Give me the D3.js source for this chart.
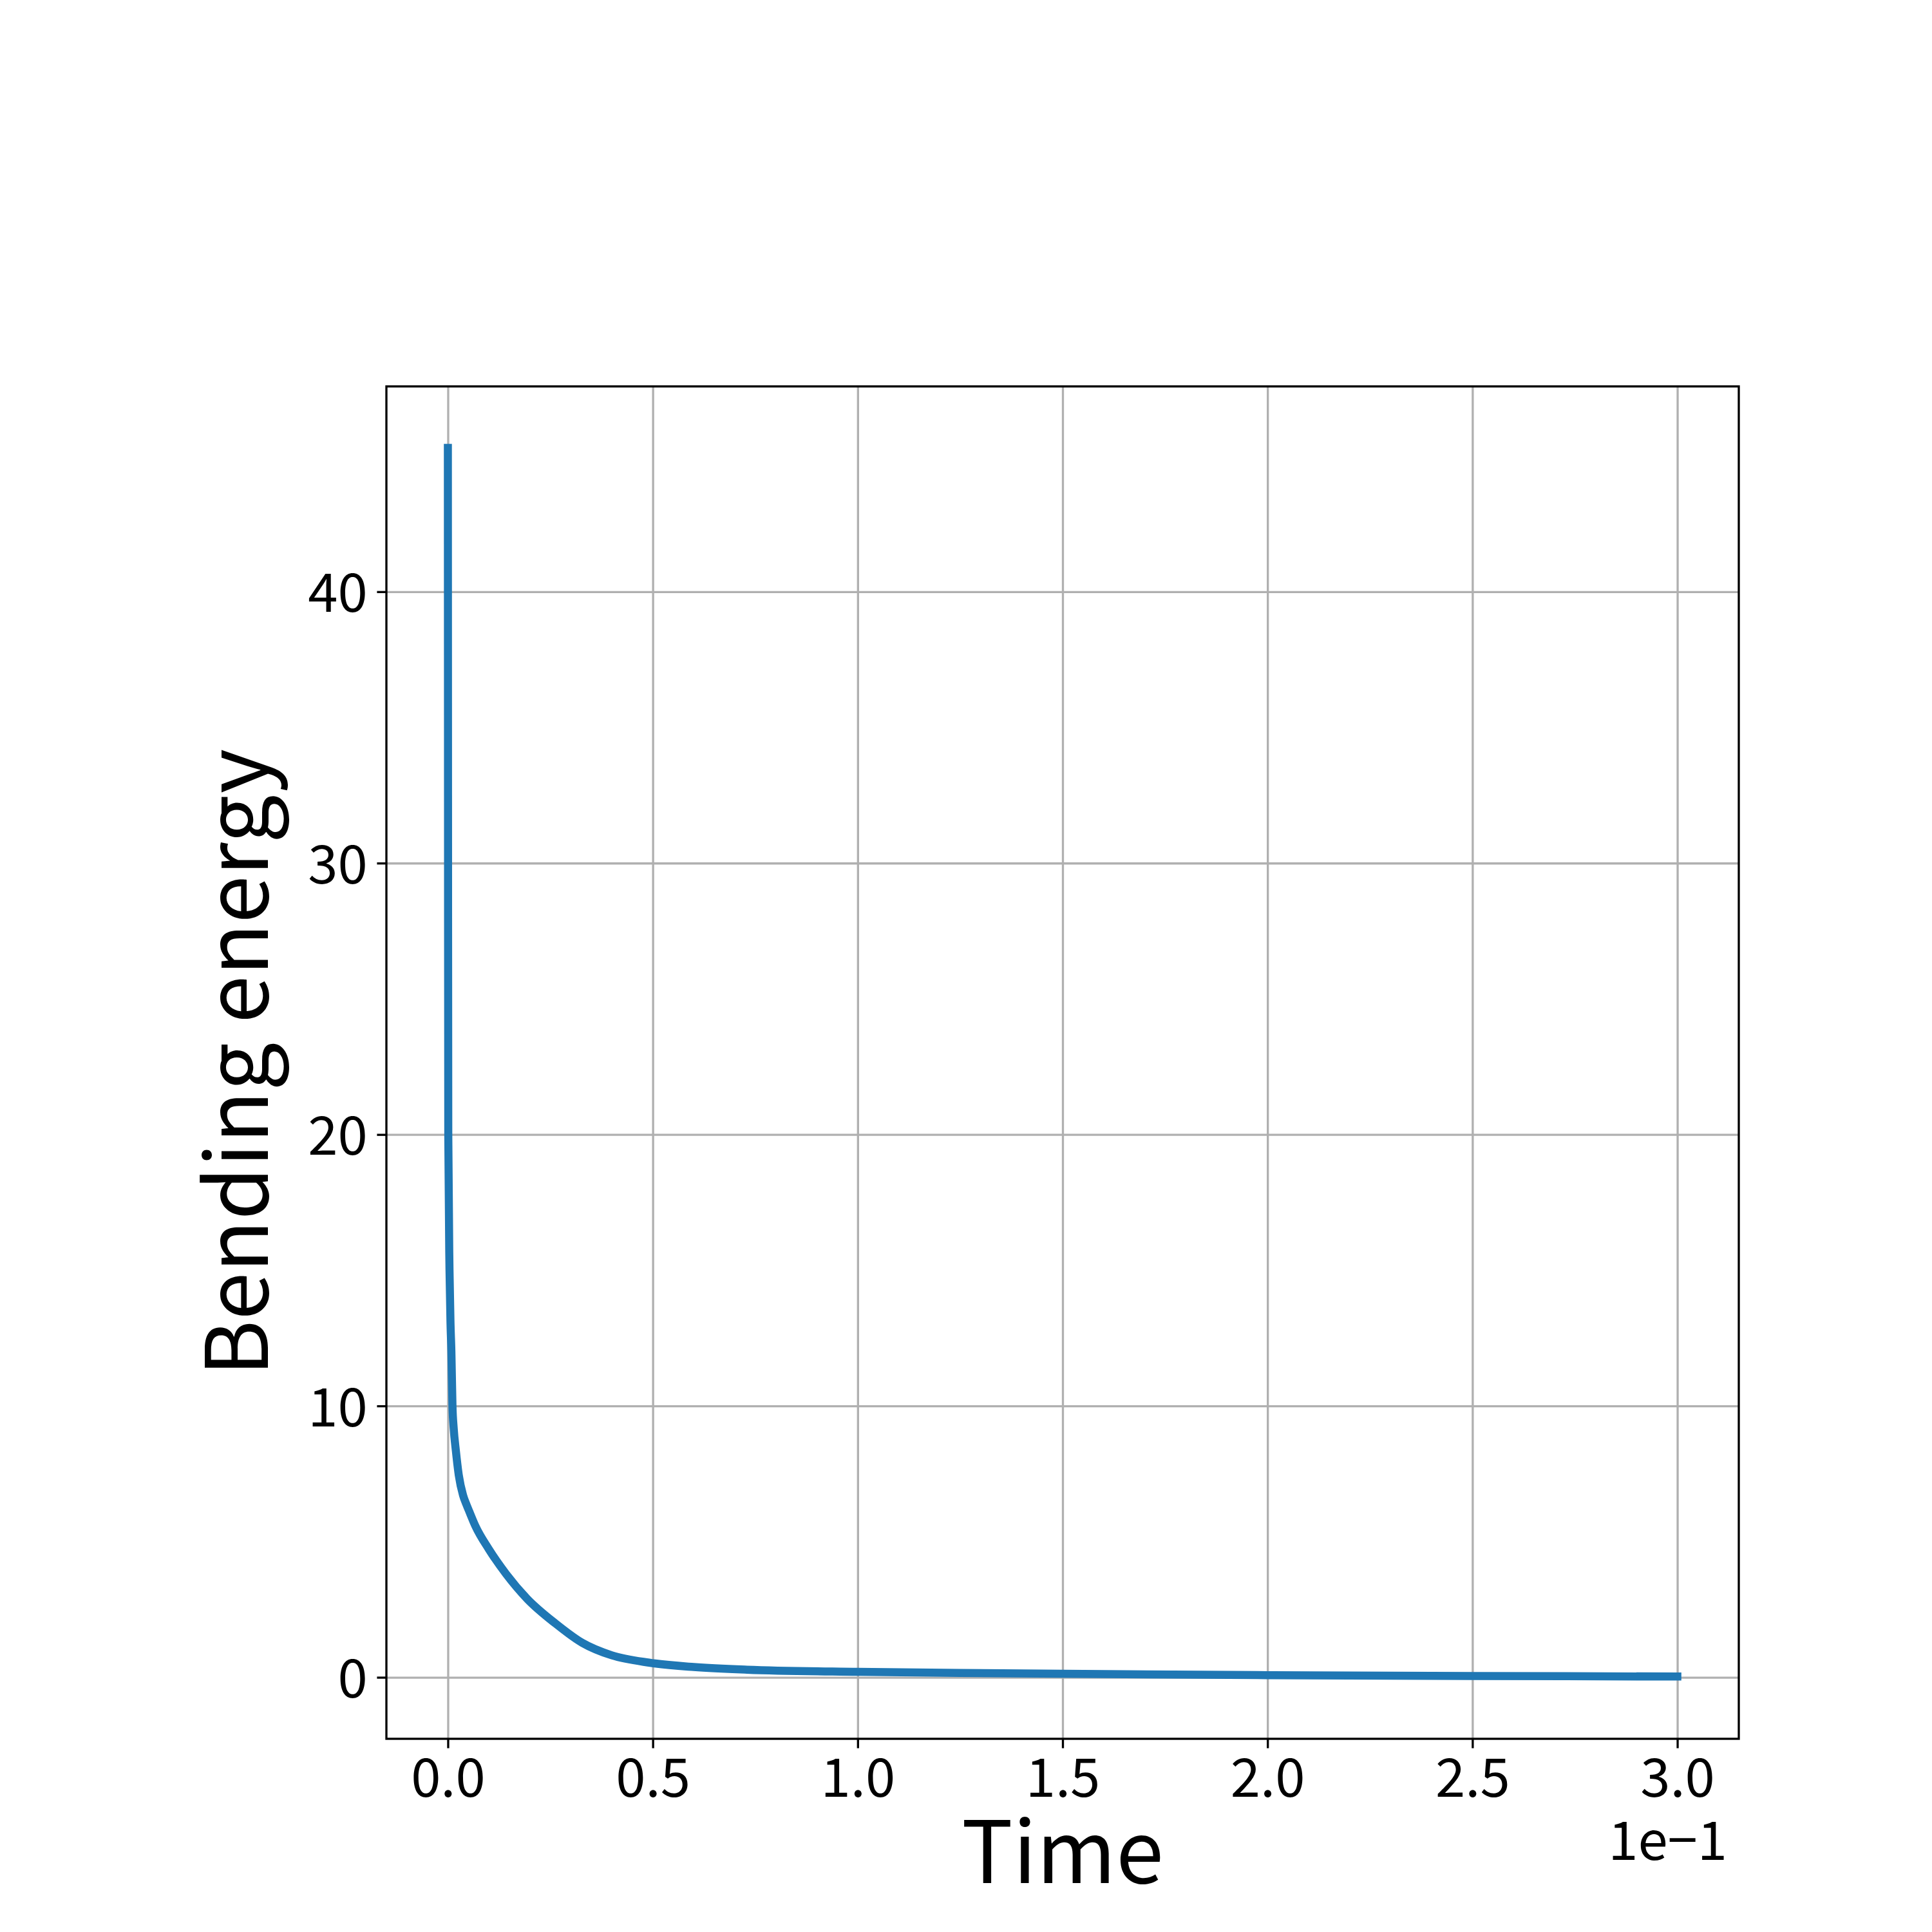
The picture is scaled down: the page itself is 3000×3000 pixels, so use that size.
<!DOCTYPE html>
<html>
<head>
<meta charset="utf-8">
<script src="https://cdn.jsdelivr.net/npm/d3@7/dist/d3.min.js"></script>
<style>
body { margin: 0; background: #fff; }
text { font-family: "Noto Sans CJK JP", "Noto Sans", sans-serif; font-weight: 400; fill: #000; }
</style>
</head>
<body>
<script>
// time (seconds) and bending energy
var times  = [0, 0.00003, 0.00005, 0.0001, 0.0004, 0.00065, 0.00086, 0.00112, 0.00141, 0.00195, 0.00267,
              0.0037, 0.0045, 0.0052, 0.0067, 0.0100, 0.0142, 0.0193, 0.0262, 0.0328, 0.0400, 0.0491,
              0.0600, 0.0730, 0.1000, 0.1250, 0.1500, 0.2000, 0.2500, 0.3000];
var energy = [45.3, 35, 28, 20, 15, 13, 12, 10, 9.2, 8.35, 7.44,
              6.71, 6.38, 6.12, 5.58, 4.72, 3.81, 2.90, 1.99, 1.27, 0.81, 0.54,
              0.38, 0.28, 0.20, 0.16, 0.13, 0.08, 0.05, 0.03];
var xTicks = [0, 0.05, 0.1, 0.15, 0.2, 0.25, 0.3];
var yTicks = [0, 10, 20, 30, 40];
var xLabel = "Time";
var yLabel = "Bending energy";
var offsetLabel = "1e\u22121";

var W = 3000, H = 3000;
var margin = {top: 600, right: 300, bottom: 300, left: 600};
var width = W - margin.left - margin.right;
var height = H - margin.top - margin.bottom;

var data = times.map(function(t, i) { return [t, energy[i]]; });

var svg = d3.select("body").append("svg")
    .attr("width", W)
    .attr("height", H);

var g = svg.append("g")
    .attr("transform", "translate(" + margin.left + "," + margin.top + ")");

// 5% padding like matplotlib autoscale
var xMin = d3.min(times), xMax = d3.max(times);
var yMax = d3.max(energy);
var xPad = (xMax - xMin) * 0.05, yPad = (yMax - 0) * 0.05;

var x = d3.scaleLinear().domain([xMin - xPad, xMax + xPad]).range([0, width]);
var y = d3.scaleLinear().domain([0 - yPad, yMax + yPad]).range([height, 0]);

var lw = 3.33; // 0.8pt at 300 dpi
var tickFont = 83.3, labelFont = 133.3;

// grid
g.append("g")
    .attr("transform", "translate(0," + height + ")")
    .call(d3.axisBottom(x).tickValues(xTicks).tickSize(-height).tickFormat(""))
    .call(function(s) {
        s.select(".domain").remove();
        s.selectAll("line").attr("stroke", "#b0b0b0").attr("stroke-width", lw);
    });
g.append("g")
    .call(d3.axisLeft(y).tickValues(yTicks).tickSize(-width).tickFormat(""))
    .call(function(s) {
        s.select(".domain").remove();
        s.selectAll("line").attr("stroke", "#b0b0b0").attr("stroke-width", lw);
    });

// the curve
var line = d3.line()
    .x(function(d) { return x(d[0]); })
    .y(function(d) { return y(d[1]); })
    .curve(d3.curveMonotoneX);

g.append("path")
    .datum(data)
    .attr("fill", "none")
    .attr("stroke", "#1f77b4")
    .attr("stroke-width", 12.5)
    .attr("stroke-linecap", "square")
    .attr("stroke-linejoin", "round")
    .attr("d", line);

// axes
var xAxis = d3.axisBottom(x).tickValues(xTicks).tickSize(14.6).tickPadding(14.6)
    .tickFormat(function(d) { return (d / 0.1).toFixed(1); });
var yAxis = d3.axisLeft(y).tickValues(yTicks).tickSize(14.6).tickPadding(14.6)
    .tickFormat(function(d) { return d; });

g.append("g")
    .attr("transform", "translate(0," + height + ")")
    .call(xAxis)
    .call(function(s) {
        s.select(".domain").remove();
        s.selectAll("line").attr("stroke", "#000").attr("stroke-width", lw);
        s.selectAll("text").attr("font-size", tickFont).attr("font-family", null)
            .attr("dy", null).attr("y", 14.6 + 14.6 + 61);
    });

g.append("g")
    .call(yAxis)
    .call(function(s) {
        s.select(".domain").remove();
        s.selectAll("line").attr("stroke", "#000").attr("stroke-width", lw);
        s.selectAll("text").attr("font-size", tickFont).attr("font-family", null)
            .attr("dy", null).attr("y", 31);
    });

// spines
g.append("rect")
    .attr("width", width)
    .attr("height", height)
    .attr("fill", "none")
    .attr("stroke", "#000")
    .attr("stroke-width", lw);

// labels
g.append("text")
    .attr("x", width / 2)
    .attr("y", 2924 - margin.top)
    .attr("text-anchor", "middle")
    .attr("font-size", labelFont)
    .text(xLabel);

g.append("text")
    .attr("transform", "translate(" + (416 - margin.left) + "," + (height / 2) + ")rotate(-90)")
    .attr("text-anchor", "middle")
    .attr("font-size", labelFont)
    .text(yLabel);

g.append("text")
    .attr("x", width - 18)
    .attr("y", 2888 - margin.top)
    .attr("text-anchor", "end")
    .attr("font-size", tickFont)
    .text(offsetLabel);
</script>
</body>
</html>
